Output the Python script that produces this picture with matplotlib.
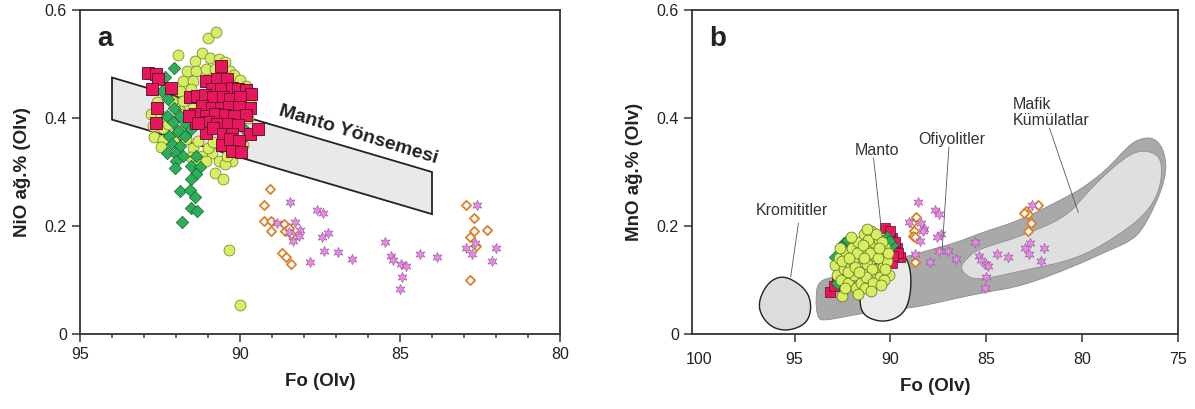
import numpy as np
import matplotlib
matplotlib.use("Agg")
import matplotlib.pyplot as plt
from matplotlib.patches import Polygon

plt.rcParams["font.family"] = ["Liberation Sans", "DejaVu Sans"]

# ---------------- panel a data (Fo, NiO wt.%) ----------------
a_circ_fo = [91.93, 91.00, 90.74, 91.18, 90.95, 90.65, 90.47, 91.42, 91.65, 91.36, 91.06, 90.77,
             90.30, 91.77, 91.48, 91.89, 91.54, 92.13, 91.77, 92.60, 92.78, 92.48, 92.72, 92.42,
             92.68, 92.42, 92.48, 92.07, 91.69, 91.48, 91.30, 91.54, 91.18, 90.89, 90.65, 90.38,
             91.30, 90.77, 90.53, 90.35, 90.00, 91.89, 92.25, 91.95, 91.00, 90.83, 90.41, 90.24,
             91.48, 91.77, 90.47, 91.06, 90.90, 90.20, 90.00, 89.80, 89.70, 89.75, 89.90, 90.40]
a_circ_ni = [0.517, 0.549, 0.559, 0.521, 0.512, 0.509, 0.503, 0.506, 0.487, 0.487, 0.490, 0.490,
             0.487, 0.469, 0.469, 0.450, 0.453, 0.432, 0.432, 0.429, 0.407, 0.404, 0.385, 0.382,
             0.364, 0.359, 0.347, 0.355, 0.361, 0.345, 0.358, 0.327, 0.330, 0.336, 0.321, 0.330,
             0.314, 0.299, 0.287, 0.156, 0.054, 0.413, 0.389, 0.376, 0.345, 0.355, 0.345, 0.321,
             0.419, 0.407, 0.314, 0.321, 0.470, 0.480, 0.470, 0.460, 0.430, 0.400, 0.350, 0.330]

a_dia_fo = [92.07, 92.33, 92.45, 92.25, 92.07, 92.28, 92.10, 91.89, 91.69, 91.93, 92.21, 91.71,
            91.54, 92.13, 91.89, 92.27, 91.99, 91.77, 91.36, 91.54, 91.24, 91.36, 92.01, 92.04,
            91.54, 91.86, 91.56, 91.42, 91.54, 91.34, 91.80, 89.88, 90.00]
a_dia_ni = [0.493, 0.476, 0.450, 0.435, 0.419, 0.404, 0.392, 0.404, 0.388, 0.376, 0.367, 0.367,
            0.379, 0.351, 0.348, 0.336, 0.333, 0.330, 0.330, 0.311, 0.310, 0.297, 0.321, 0.308,
            0.287, 0.265, 0.267, 0.253, 0.234, 0.228, 0.208, 0.379, 0.357]

a_sq_fo = [92.86, 92.62, 92.56, 92.74, 92.16, 92.60, 92.62, 90.59, 91.06, 90.73, 90.41, 90.89,
           90.59, 90.24, 90.06, 89.82, 89.67, 91.56, 91.34, 91.09, 90.83, 90.53, 90.30, 90.00,
           89.70, 91.18, 90.89, 90.59, 90.35, 90.02, 91.42, 91.06, 90.77, 90.47, 90.18, 89.82,
           91.36, 91.00, 90.71, 90.38, 90.06, 91.06, 90.83, 90.53, 90.24, 89.70, 89.44, 90.57,
           90.30, 90.02, 90.24, 89.98, 91.60, 91.30]
a_sq_ni = [0.484, 0.481, 0.473, 0.454, 0.456, 0.418, 0.390, 0.496, 0.469, 0.473, 0.473, 0.453,
           0.453, 0.455, 0.453, 0.451, 0.445, 0.438, 0.441, 0.442, 0.438, 0.439, 0.435, 0.438,
           0.419, 0.422, 0.419, 0.419, 0.420, 0.420, 0.407, 0.404, 0.407, 0.405, 0.404, 0.405,
           0.390, 0.392, 0.388, 0.388, 0.387, 0.373, 0.382, 0.370, 0.370, 0.370, 0.380, 0.350,
           0.361, 0.358, 0.339, 0.337, 0.404, 0.390]

a_open_fo = [89.05, 89.24, 89.26, 89.03, 89.03, 88.64, 88.60, 88.46, 88.40, 88.70, 88.56, 88.40,
             82.93, 82.70, 82.70, 82.29, 82.82, 82.63, 82.81]
a_open_ni = [0.269, 0.239, 0.210, 0.210, 0.190, 0.203, 0.191, 0.196, 0.185, 0.150, 0.142, 0.129,
             0.239, 0.215, 0.190, 0.192, 0.180, 0.163, 0.100]

a_star_fo = [88.44, 88.85, 88.29, 88.11, 88.35, 88.17, 87.58, 87.40, 87.26, 87.44, 87.38, 87.81,
             86.93, 86.51, 85.47, 85.27, 85.21, 84.98, 84.82, 84.95, 84.99, 84.39, 83.83, 82.58,
             82.95, 82.74, 82.14, 82.00, 82.67, 88.46]
a_star_ni = [0.244, 0.205, 0.207, 0.192, 0.173, 0.182, 0.229, 0.225, 0.187, 0.180, 0.153, 0.133,
             0.151, 0.139, 0.170, 0.145, 0.137, 0.129, 0.126, 0.105, 0.083, 0.149, 0.142, 0.239,
             0.160, 0.149, 0.136, 0.160, 0.168, 0.188]

# mantle array band (Fo, NiO)
trend_fo = [94.0, 84.0, 84.0, 94.0]
trend_ni = [0.475, 0.300, 0.222, 0.397]

# ---------------- panel b data (Fo, MnO wt.%) ----------------
b_circ_fo = [92.90, 92.70, 92.80, 92.50, 92.60, 92.30, 92.40, 92.20, 92.00, 92.10, 91.90, 91.80,
             91.70, 91.60, 91.50, 91.40, 91.30, 91.20, 91.10, 91.00, 90.90, 90.80, 90.70, 90.60,
             90.50, 90.40, 90.30, 90.20, 90.10, 92.55, 92.20, 91.95, 91.75, 91.55, 91.35, 91.15,
             90.95, 90.75, 90.55, 90.35, 90.15, 92.35, 92.05, 91.85, 91.45, 91.05, 90.65, 90.45,
             91.25, 91.65, 92.65, 91.70, 90.90, 90.30, 91.40, 90.60, 92.15, 91.00, 90.50, 91.20]
b_circ_mn = [0.128, 0.140, 0.110, 0.071, 0.100, 0.150, 0.120, 0.095, 0.160, 0.130, 0.110, 0.085,
             0.170, 0.140, 0.115, 0.185, 0.160, 0.130, 0.100, 0.190, 0.170, 0.145, 0.120, 0.175,
             0.150, 0.125, 0.160, 0.135, 0.110, 0.135, 0.115, 0.135, 0.150, 0.095, 0.085, 0.175,
             0.120, 0.185, 0.105, 0.100, 0.150, 0.085, 0.180, 0.125, 0.165, 0.150, 0.140, 0.170,
             0.105, 0.115, 0.160, 0.075, 0.095, 0.120, 0.140, 0.160, 0.140, 0.080, 0.090, 0.195]

b_sq_fo = [93.15, 92.95, 92.60, 90.30, 89.90, 89.67, 89.50, 89.90, 90.00, 89.75, 92.80, 90.10,
           89.60, 89.85]
b_sq_mn = [0.078, 0.089, 0.104, 0.196, 0.178, 0.159, 0.143, 0.131, 0.190, 0.170, 0.100, 0.165,
           0.150, 0.145]

b_dia_fo = [92.40, 92.60, 92.90, 90.20, 89.90, 92.80, 92.20, 90.05]
b_dia_mn = [0.168, 0.161, 0.143, 0.180, 0.165, 0.094, 0.175, 0.172]

b_open_fo = [88.64, 88.87, 88.77, 88.83, 88.74, 88.74, 82.93, 82.80, 82.32, 82.66, 82.84, 83.03]
b_open_mn = [0.216, 0.205, 0.191, 0.182, 0.179, 0.133, 0.227, 0.222, 0.239, 0.205, 0.190, 0.225]

b_star_fo = [88.58, 89.02, 88.39, 88.26, 88.45, 88.74, 87.68, 87.49, 87.34, 87.55, 87.49, 87.91,
             87.01, 86.59, 85.57, 85.38, 85.29, 85.04, 84.90, 85.04, 85.06, 84.43, 83.89, 82.61,
             83.00, 82.76, 82.13, 82.00, 82.70, 88.31]
b_star_mn = [0.244, 0.207, 0.205, 0.194, 0.173, 0.148, 0.230, 0.223, 0.186, 0.180, 0.154, 0.133,
             0.153, 0.139, 0.170, 0.145, 0.137, 0.130, 0.126, 0.105, 0.085, 0.149, 0.142, 0.239,
             0.160, 0.149, 0.136, 0.160, 0.168, 0.191]

# field outlines (Fo, MnO)
ophio_fo = [93.8, 92.5, 91.0, 89.0, 88.3, 86.5, 85.3, 83.2, 80.8, 79.9, 78.7, 77.5, 76.9, 76.4,
            75.9, 75.6, 75.7, 76.1, 76.9, 77.6, 78.4, 80.5, 83.2, 85.3, 88.3, 89.5, 91.4, 93.5,
            93.8, 93.9]
ophio_mn = [0.100, 0.108, 0.120, 0.146, 0.152, 0.170, 0.187, 0.211, 0.254, 0.272, 0.305, 0.352,
            0.362, 0.364, 0.352, 0.320, 0.285, 0.245, 0.190, 0.170, 0.158, 0.124, 0.088, 0.076,
            0.052, 0.046, 0.039, 0.024, 0.030, 0.060]
cumul_fo = [86.38, 86.0, 85.5, 83.25, 80.8, 79.77, 78.4, 77.16, 76.1, 75.8, 76.0, 76.8, 78.7,
            80.5, 82.9, 85.3, 86.0]
cumul_mn = [0.124, 0.140, 0.156, 0.180, 0.217, 0.261, 0.309, 0.341, 0.335, 0.309, 0.261, 0.217,
            0.169, 0.137, 0.119, 0.100, 0.106]
mantle_fo = [91.6, 91.5, 91.0, 90.2, 89.4, 89.0, 88.9, 89.1, 89.6, 90.4, 91.2, 91.55]
mantle_mn = [0.070, 0.100, 0.125, 0.145, 0.150, 0.130, 0.090, 0.050, 0.030, 0.022, 0.030, 0.045]
chrom_fo = [96.9, 96.5, 95.9, 95.24, 94.35, 94.1, 94.35, 95.24, 96.1, 96.7]
chrom_mn = [0.057, 0.090, 0.106, 0.104, 0.081, 0.050, 0.020, 0.006, 0.010, 0.031]

C_YEL = "#d6ef62"
C_RED = "#e8175d"
C_GRN = "#2bb05a"
C_ORA = "#d9822b"
C_PNK = "#ea86ea"
STAR6 = (6, 1, 0)


def smooth(xs, ys, n=3):
    # chaikin corner cutting on a closed outline
    pts = np.column_stack([xs, ys])
    for _ in range(n):
        nxt = np.roll(pts, -1, axis=0)
        q = 0.75 * pts + 0.25 * nxt
        r = 0.25 * pts + 0.75 * nxt
        pts = np.empty((2 * len(q), 2))
        pts[0::2] = q
        pts[1::2] = r
    return pts


def style_axes(ax):
    for s in ax.spines.values():
        s.set_color("#333333")
        s.set_linewidth(1.3)
    ax.tick_params(direction="out", length=6, width=1.1, color="#333333",
                   labelsize=11.5, labelcolor="#222222")
    ax.set_ylim(0, 0.6)
    ax.set_yticks([0, 0.2, 0.4, 0.6])
    ax.set_yticklabels(["0", "0.2", "0.4", "0.6"])


def scatter_groups(ax, groups):
    for fo, val, kw in groups:
        ax.scatter(fo, val, zorder=5, **kw)


fig = plt.figure(figsize=(11.95, 4.09), dpi=100)
ax1 = fig.add_axes([80 / 1195, 75 / 409, 480 / 1195, 324 / 409])
ax2 = fig.add_axes([692 / 1195, 75 / 409, 486 / 1195, 324 / 409])

# ---- panel a ----
style_axes(ax1)
ax1.set_xlim(95, 80)
ax1.set_xticks([95, 90, 85, 80])
ax1.set_xticks(np.arange(80, 96, 1), minor=True)
ax1.tick_params(axis="x", which="minor", direction="out", length=3, width=1.1, color="#333333")
ax1.add_patch(Polygon(np.column_stack([trend_fo, trend_ni]), closed=True,
                      facecolor="#e8e9e9", edgecolor="#222222", lw=1.3, zorder=2))
ax1.text(86.3, 0.368, "Manto Yönsemesi", fontsize=14, fontweight="bold", color="#222222",
         rotation=-17, ha="center", va="center", zorder=3)

scatter_groups(ax1, [
    (a_circ_fo, a_circ_ni, dict(s=62, marker="o", c=C_YEL, edgecolors="#6d7a2a", linewidths=0.5)),
    (a_dia_fo, a_dia_ni, dict(s=40, marker="D", c=C_GRN, edgecolors="#1d5e33", linewidths=0.5)),
    (a_sq_fo, a_sq_ni, dict(s=70, marker="s", c=C_RED, edgecolors="#5a0a22", linewidths=0.6)),
    (a_open_fo, a_open_ni, dict(s=22, marker="D", facecolors="white", edgecolors=C_ORA, linewidths=1.3)),
    (a_star_fo, a_star_ni, dict(s=55, marker=STAR6, c=C_PNK, edgecolors="#8a5a8a", linewidths=0.4)),
])
ax1.set_xlabel("Fo (Olv)", fontsize=13.5, fontweight="bold", color="#222222", labelpad=8)
ax1.set_ylabel("NiO ağ.% (Olv)", fontsize=13.5, fontweight="bold", color="#222222", labelpad=10)
ax1.text(0.035, 0.95, "a", transform=ax1.transAxes, fontsize=20, fontweight="bold",
         color="#222222", va="top")

# ---- panel b ----
style_axes(ax2)
ax2.set_xlim(100.35, 75)
ax2.set_xticks([95, 90, 85, 80, 75])
ax2.tick_params(axis="x", pad=7)
ax2.text(100, -0.034, "100", transform=ax2.transData, fontsize=11.5, color="#222222",
         ha="center", va="top", clip_on=False)

ax2.add_patch(Polygon(smooth(ophio_fo, ophio_mn), closed=True, facecolor="#a9a9a9",
                      edgecolor="#8c8c8c", lw=0.6, zorder=1))
ax2.add_patch(Polygon(smooth(cumul_fo, cumul_mn), closed=True, facecolor="#dedfdf",
                      edgecolor="#909090", lw=0.6, zorder=2))
ax2.add_patch(Polygon(smooth(mantle_fo, mantle_mn), closed=True, facecolor="#e9eaea",
                      edgecolor="#222222", lw=1.0, zorder=3))
ax2.add_patch(Polygon(smooth(chrom_fo, chrom_mn), closed=True, facecolor="#dcdcdc",
                      edgecolor="#222222", lw=1.0, zorder=3))

scatter_groups(ax2, [
    (b_sq_fo, b_sq_mn, dict(s=62, marker="s", c=C_RED, edgecolors="#5a0a22", linewidths=0.5)),
    (b_dia_fo, b_dia_mn, dict(s=40, marker="D", c=C_GRN, edgecolors="#1d5e33", linewidths=0.5)),
    (b_circ_fo, b_circ_mn, dict(s=62, marker="o", c=C_YEL, edgecolors="#5d6a20", linewidths=0.5)),
    (b_open_fo, b_open_mn, dict(s=22, marker="D", facecolors="white", edgecolors=C_ORA, linewidths=1.3)),
    (b_star_fo, b_star_mn, dict(s=55, marker=STAR6, c=C_PNK, edgecolors="#8a5a8a", linewidths=0.4)),
])

lbl = dict(fontsize=11.5, color="#333333", zorder=6)
ax2.text(95.15, 0.228, "Kromititler", ha="center", va="center", **lbl)
ax2.plot([94.8, 95.2], [0.205, 0.106], color="#555555", lw=0.6, zorder=6)
ax2.text(90.7, 0.340, "Manto", ha="center", va="center", **lbl)
ax2.plot([90.88, 90.46], [0.326, 0.190], color="#555555", lw=0.6, zorder=6)
ax2.text(86.8, 0.360, "Ofiyolitler", ha="center", va="center", **lbl)
ax2.plot([86.95, 87.3], [0.346, 0.157], color="#555555", lw=0.6, zorder=6)
ax2.text(83.6, 0.410, "Mafik\nKümülatlar", ha="left", va="center", linespacing=1.1, **lbl)
ax2.plot([81.7, 80.2], [0.381, 0.225], color="#555555", lw=0.6, zorder=6)

ax2.set_xlabel("Fo (Olv)", fontsize=13.5, fontweight="bold", color="#222222", labelpad=8)
ax2.set_ylabel("MnO ağ.% (Olv)", fontsize=13.5, fontweight="bold", color="#222222", labelpad=10)
ax2.text(0.035, 0.95, "b", transform=ax2.transAxes, fontsize=20, fontweight="bold",
         color="#222222", va="top")

fig.savefig("out.png", dpi=100)
